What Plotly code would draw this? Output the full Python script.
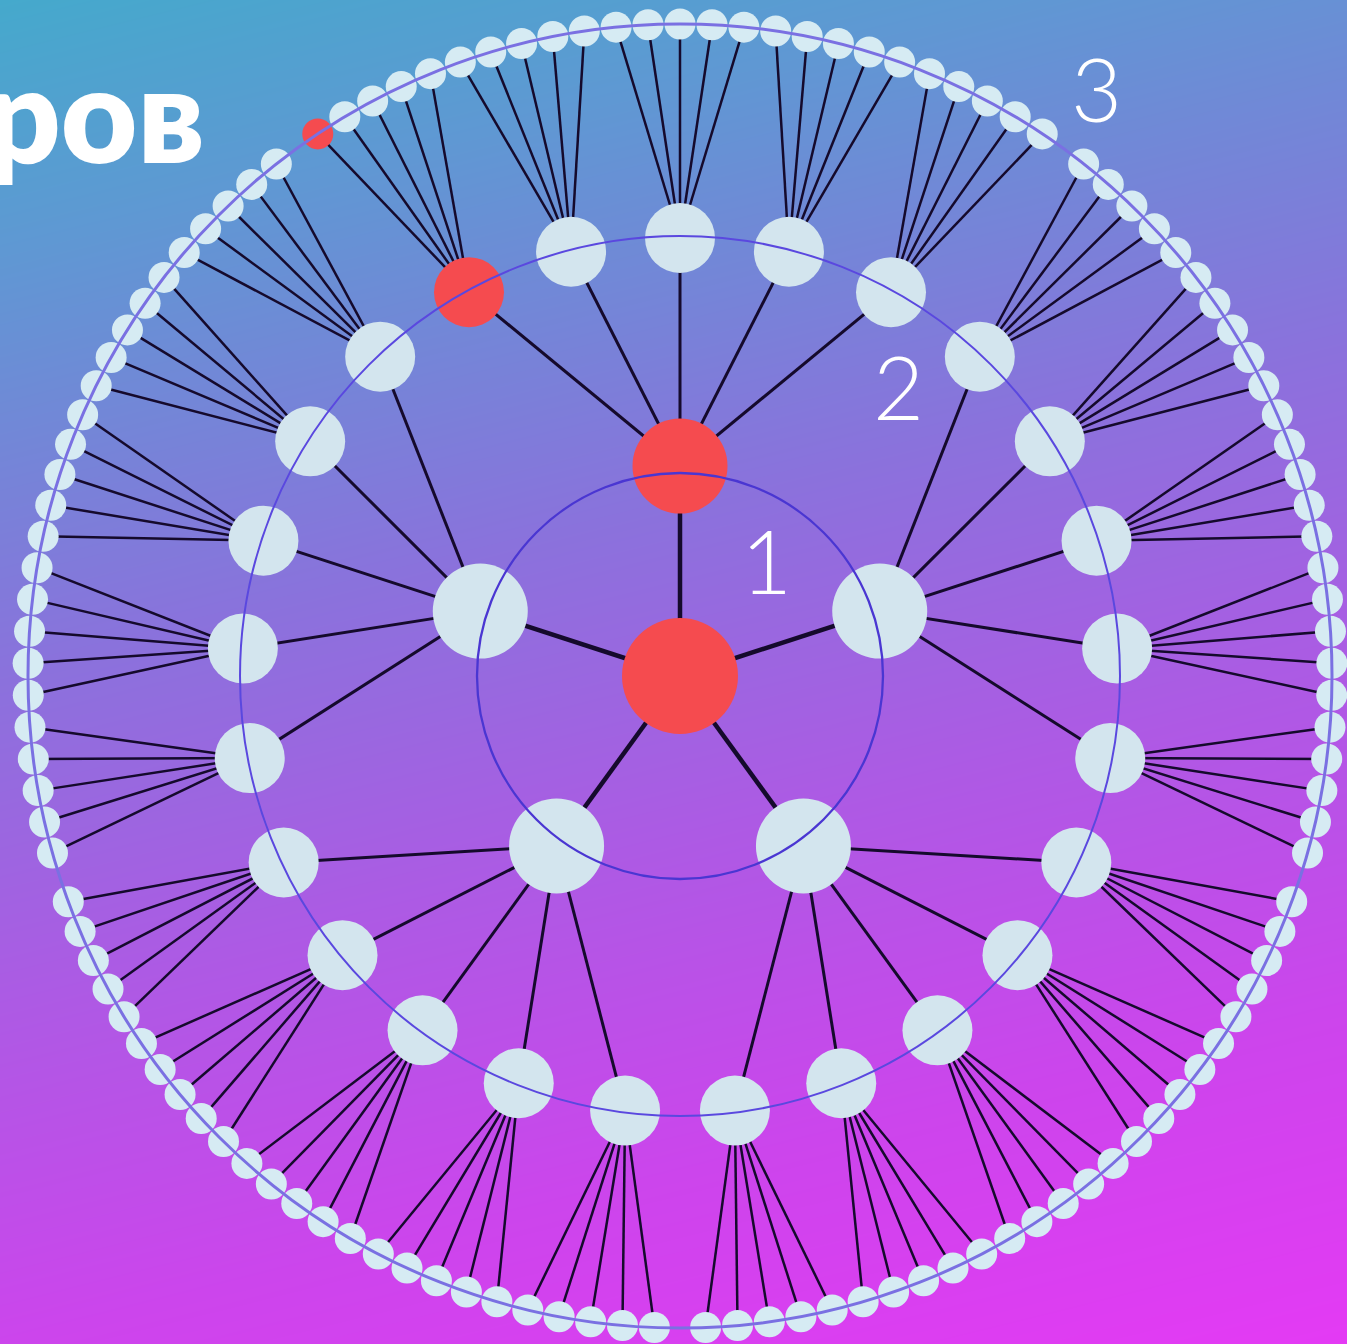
import numpy as np
import plotly.graph_objects as go

# ---------------- data ----------------
level_labels = ["1", "2", "3"]          # ring labels
branching = [5, 5, 5]                   # children per node, level by level
highlight_path = [0, 4, 4]              # highlighted child index at each level
leaf_group_gap = 1.6                    # gap between level-1 subtrees on outer ring (in leaf steps)
title_fragment = "ров"

# ---------------- geometry / style ----------------
W, H = 1347, 1344
CX, CY = 680, 676
node_r = [0, 210, 438, 652]             # radial position of each level
node_size = [116, 95, 70, 31]           # marker diameters
edge_width = [4.5, 3.0, 2.5]
ring_r = [203, 440, 652]
ring_col = ["#4a36d2", "#5a48df", "#7a70e2"]
ring_w = [2.3, 2, 3]
label_pos = [(766, 560), (898, 386), (1096, 88)]
RED = "#f54b4f"
LIGHT = ["#d3e5ee", "#d3e5ee", "#d3e5ee", "#d6ebf3"]
EDGE = "#150a2c"


def pol(r, deg):
    a = np.deg2rad(deg)
    return CX + r * np.cos(a), CY - r * np.sin(a)


n1, n2, n3 = branching
step1 = 360 / n1
step2 = 360 / (n1 * n2)
n_leaf_sub = n2 * n3
step3 = 360 / (n1 * n_leaf_sub - n1 + n1 * leaf_group_gap)

levels = [[(0.0, None, True)]]  # (angle, parent index, highlighted)
lvl1 = []
for i in range(n1):
    lvl1.append((90 + step1 * i, 0, i == highlight_path[0]))
lvl2 = []
for i in range(n1):
    for j in range(n2):
        ang = lvl1[i][0] + (j - (n2 - 1) / 2) * step2
        hl = lvl1[i][2] and j == highlight_path[1]
        lvl2.append((ang, i, hl))
lvl3 = []
for i in range(n1):
    for j in range(n2):
        for k in range(n3):
            m = j * n3 + k
            ang = lvl1[i][0] + (m - (n_leaf_sub - 1) / 2) * step3
            hl = lvl2[i * n2 + j][2] and k == highlight_path[2]
            lvl3.append((ang, i * n2 + j, hl))
levels += [lvl1, lvl2, lvl3]

fig = go.Figure()

# background gradient
gx = np.linspace(0, W, 40)
gy = np.linspace(0, H, 40)
GX, GY = np.meshgrid(gx, gy)
Z = 0.2 * GX / W + 0.8 * GY / H
fig.add_trace(go.Heatmap(
    x=gx, y=gy, z=Z, zmin=0, zmax=1, zsmooth="best", showscale=False, hoverinfo="skip",
    colorscale=[[0, "#45a9cc"], [0.15, "#5f98d3"], [0.4, "#8a72dc"],
                [0.6, "#ad5ae4"], [0.8, "#cc45ec"], [1, "#e43af4"]]))

# edges
for L in range(1, 4):
    xs, ys = [], []
    for ang, par, hl in levels[L]:
        x, y = pol(node_r[L], ang)
        pang = levels[L - 1][par][0]
        px, py = pol(node_r[L - 1], pang)
        xs += [px, x, None]
        ys += [py, y, None]
    fig.add_trace(go.Scatter(x=xs, y=ys, mode="lines", hoverinfo="skip",
                             line=dict(color=EDGE, width=edge_width[L - 1])))

# nodes
for L in range(0, 4):
    xs, ys, cs = [], [], []
    for ang, par, hl in levels[L]:
        x, y = pol(node_r[L], ang)
        xs.append(x); ys.append(y)
        cs.append(RED if hl else LIGHT[L])
    fig.add_trace(go.Scatter(x=xs, y=ys, mode="markers", hoverinfo="skip",
                             marker=dict(size=node_size[L], color=cs, line=dict(width=0), opacity=1)))

shapes = []
for r, c, w in zip(ring_r, ring_col, ring_w):
    shapes.append(dict(type="circle", xref="x", yref="y", x0=CX - r, x1=CX + r, y0=CY - r, y1=CY + r,
                       line=dict(color=c, width=w), layer="above"))

ann = []
for lab, (x, y) in zip(level_labels, label_pos):
    ann.append(dict(x=x, y=y, xref="x", yref="y", text=lab, showarrow=False,
                    font=dict(family="Lato", size=88, color="white", weight=300)))
ann.append(dict(x=207, y=112, xref="x", yref="y", text=title_fragment, showarrow=False,
                xanchor="right", font=dict(family="Lato, Noto Sans", size=132, color="white", weight=800)))

fig.update_layout(
    width=W, height=H, margin=dict(l=0, r=0, t=0, b=0),
    paper_bgcolor="#8a70dc", plot_bgcolor="#8a70dc", showlegend=False,
    xaxis=dict(range=[0, W], visible=False, fixedrange=True),
    yaxis=dict(range=[H, 0], visible=False, fixedrange=True),
    shapes=shapes, annotations=ann,
)

fig.write_html("out.html", config={"displayModeBar": False},
               post_script="document.body.style.margin='0';document.body.style.overflow='hidden';")
